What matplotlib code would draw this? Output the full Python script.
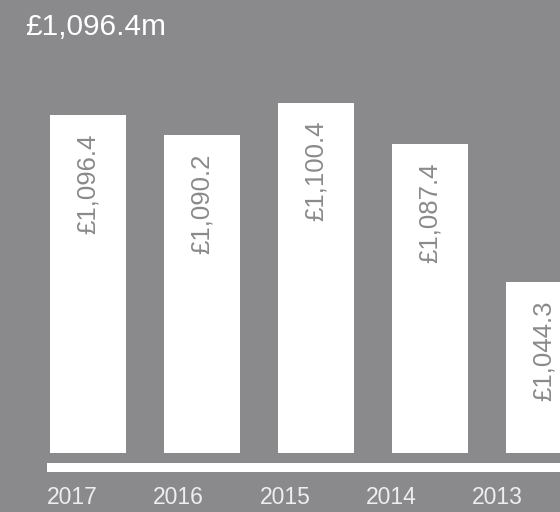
import matplotlib.pyplot as plt
from matplotlib.patches import Rectangle

years = ['2017', '2016', '2015', '2014', '2013']
values = [1096.4, 1090.2, 1100.4, 1087.4, 1044.3]
labels = ['£1,096.4', '£1,090.2', '£1,100.4', '£1,087.4', '£1,044.3']
headline = '£1,096.4m'

bg = '#8a8a8c'
plt.rcParams['font.family'] = ['Liberation Sans', 'DejaVu Sans']

W, H = 560, 512
fig = plt.figure(figsize=(W / 100, H / 100), dpi=100, facecolor=bg)

# bar axes: one unit = 114 px, baseline at y=452.7 px from top
left_px = 31
bottom_px = 452.7
ax = fig.add_axes([left_px / W, (H - bottom_px) / H, 570 / W, bottom_px / H])
ax.set_facecolor(bg)
ax.set_xlim(-0.5, 4.5)
base = 991
ax.set_ylim(base, base + bottom_px / 3.2)
ax.bar(range(len(values)), [v - base for v in values], bottom=base,
       width=0.675, color='white', linewidth=0)
for i, (v, lab) in enumerate(zip(values, labels)):
    ax.annotate(lab, (i, v), xytext=(0, -13), textcoords='offset points',
                rotation=90, ha='center', va='top', color=bg, fontsize=18.5)
ax.axis('off')

# baseline strip
fig.add_artist(Rectangle((47 / W, (H - 472) / H), 1, 9 / H,
                         transform=fig.transFigure, color='white', lw=0))

fig.text(25 / W, 1 - 27 / H, headline, color='white', fontsize=21.5,
         ha='left', va='center')
for i, y in enumerate(years):
    fig.text((47 + i * 106.3) / W, 1 - 498 / H, y, color='#eeeeee',
             fontsize=16.5, ha='left', va='center')

fig.savefig('out.png', dpi=100, facecolor=bg)
